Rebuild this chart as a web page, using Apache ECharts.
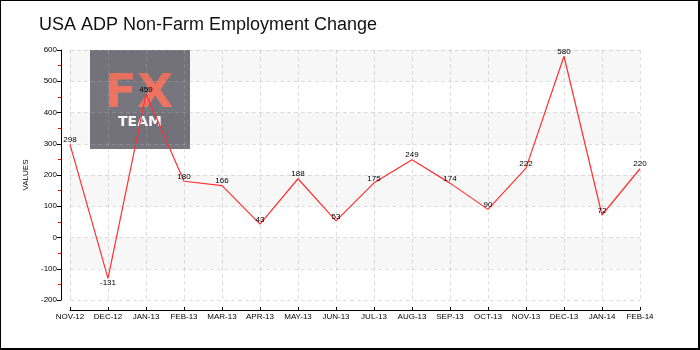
<!DOCTYPE html>
<html>
<head>
<meta charset="utf-8">
<script src="https://cdn.jsdelivr.net/npm/echarts@6/dist/echarts.min.js"></script>
<style>html,body{margin:0;padding:0;background:#fff}#c{width:700px;height:350px}</style>
</head>
<body>
<div id="c"></div>
<script>
const titleText = 'USA ADP Non-Farm Employment Change';
const categories = ['NOV-12','DEC-12','JAN-13','FEB-13','MAR-13','APR-13','MAY-13','JUN-13','JUL-13','AUG-13','SEP-13','OCT-13','NOV-13','DEC-13','JAN-14','FEB-14'];
const values = [298, -131, 459, 180, 166, 43, 188, 53, 175, 249, 174, 90, 222, 580, 72, 220];
const yMin = -200, yMax = 600, yStep = 100;
const axisName = 'VALUES';

const lblFont = 'Liberation Sans';
const gridLine = {color: 'rgba(168,168,168,0.38)', type: [4, 3]};
const chart = echarts.init(document.getElementById('c'), null, {renderer: 'canvas'});
chart.setOption({
  backgroundColor: '#fff',
  animation: false,
  title: {
    text: titleText, left: 34, top: 11,
    textStyle: {fontFamily: 'Liberation Sans', fontSize: 18, fontWeight: 'normal', color: '#111'}
  },
  grid: {left: 70, right: 60, top: 50, bottom: 50},
  graphic: [
    {type: 'rect', z: -3, silent: true, shape: {x: 0, y: 0, width: 700, height: 350}, style: {fill: '#000'}},
    {type: 'rect', z: -2, silent: true, shape: {x: 1, y: 1, width: 697, height: 347}, style: {fill: '#fff'}},
    {type: 'rect', z: -1, silent: true, shape: {x: 90, y: 50, width: 100, height: 99}, style: {fill: '#77767e'}},
    {type: 'text', z: -1, silent: true, x: 139, y: 95, style: {text: 'FX', fill: '#ee7461', font: 'bold 47px "DejaVu Sans"', align: 'center', verticalAlign: 'middle'}},
    {type: 'text', z: -1, silent: true, x: 140, y: 122, style: {text: 'TEAM', fill: '#ffffff', font: 'bold 14px "DejaVu Sans"', align: 'center', verticalAlign: 'middle'}}
  ],
  xAxis: {
    type: 'category', data: categories, boundaryGap: false, offset: 10,
    axisLine: {onZero: false, lineStyle: {color: '#000', width: 1}},
    axisTick: {inside: true, length: 3, lineStyle: {color: '#000'}},
    axisLabel: {fontFamily: lblFont, fontSize: 8, color: '#000', margin: 3, interval: 0},
    splitLine: {show: true, lineStyle: gridLine}
  },
  yAxis: {
    type: 'value', min: yMin, max: yMax, interval: yStep, offset: 9,
    name: axisName, nameLocation: 'middle', nameGap: 27, nameRotate: 90,
    nameTextStyle: {fontFamily: lblFont, fontSize: 8, color: '#000'},
    axisLine: {show: true, lineStyle: {color: '#000', width: 1}},
    axisTick: {show: true, length: 4, lineStyle: {color: '#000'}},
    minorTick: {show: true, splitNumber: 2, length: 3, lineStyle: {color: '#ff0000'}},
    axisLabel: {fontFamily: lblFont, fontSize: 8, color: '#000', margin: 4},
    splitLine: {show: true, lineStyle: gridLine},
    splitArea: {show: true, areaStyle: {color: ['rgba(0,0,0,0)', 'rgba(0,0,0,0.03)']}}
  },
  series: [{
    type: 'line', data: values.map(v => v < 0 ? {value: v, label: {position: 'bottom'}} : v),
    showSymbol: true, symbol: 'circle', symbolSize: 1,
    itemStyle: {color: 'rgba(255,48,48,0)', borderWidth: 0},
    lineStyle: {color: '#ff3030', width: 1.2},
    label: {show: true, position: 'top', distance: 0, fontFamily: lblFont, fontSize: 8, color: '#000'},
    emphasis: {disabled: true},
    z: 5
  }]
});
</script>
</body>
</html>
